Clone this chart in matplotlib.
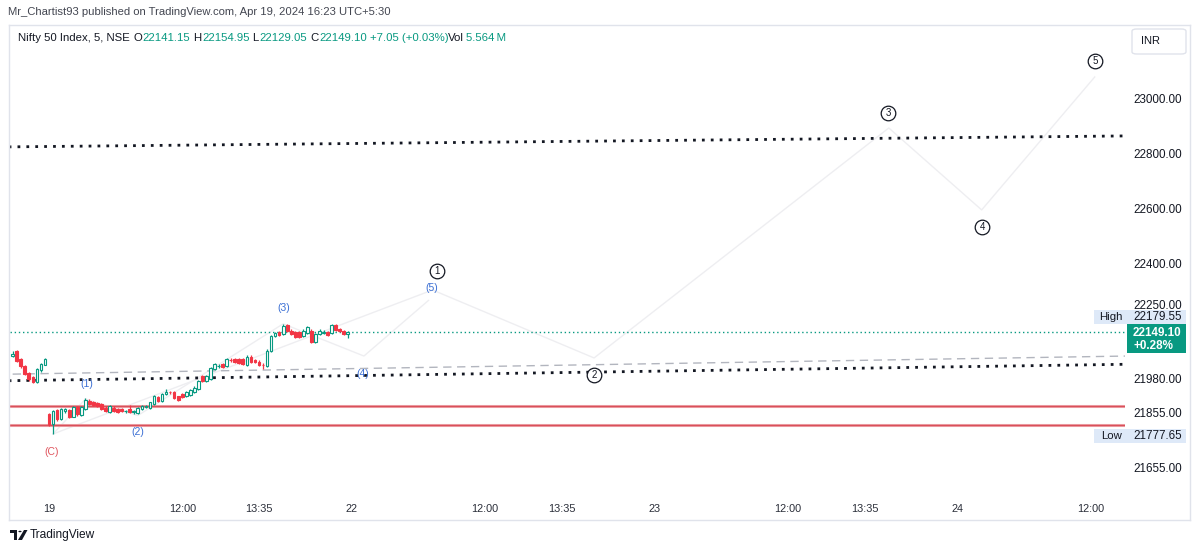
import matplotlib
matplotlib.use('Agg')
import matplotlib.pyplot as plt
from matplotlib.patches import Rectangle, FancyBboxPatch, Polygon, Circle
from matplotlib.lines import Line2D

plt.rcParams['font.family'] = ['Liberation Sans', 'DejaVu Sans']

# ---------------- data ----------------
bar_index = list(range(-9, 75))
opens = [22062, 22080, 22050, 22025, 22000, 21985, 21967, 22010, 22030,
         21850, 21813, 21864, 21831, 21860, 21866, 21841, 21875, 21846, 21868,
         21897, 21893, 21890, 21886, 21874, 21858, 21874, 21870, 21868, 21860,
         21870, 21858, 21855, 21868, 21876, 21874, 21886, 21912, 21898, 21924,
         21930, 21930, 21915, 21923, 21915, 21919, 21930, 21941, 21990, 21972,
         21978, 22014, 22025, 22032, 22027, 22048, 22051, 22050, 22051, 22028,
         22060, 22046, 22041, 22030, 22027, 22082, 22134, 22148, 22143, 22175,
         22155, 22150, 22148, 22136, 22146, 22155, 22113, 22143, 22146, 22150,
         22146, 22176, 22160, 22155, 22141.15]
highs = [22080, 22085, 22055, 22030, 22004, 21990, 22018, 22036, 22055,
         21855, 21866, 21870, 21874, 21873, 21870, 21880, 21880, 21880, 21908,
         21905, 21897, 21894, 21890, 21878, 21884, 21878, 21874, 21872, 21866,
         21882, 21864, 21876, 21884, 21884, 21896, 21920, 21916, 21926, 21940,
         21936, 21934, 21918, 21926, 21934, 21941, 21952, 21976, 21994, 21994,
         22022, 22037, 22033, 22036, 22055, 22054, 22055, 22054, 22056, 22064,
         22064, 22052, 22046, 22036, 22086, 22140, 22150, 22152, 22179.55, 22179,
         22160, 22154, 22152, 22159, 22170, 22160, 22147, 22160, 22156, 22155,
         22179, 22179, 22165, 22158, 22154.95]
lows = [22058, 22040, 22020, 21992, 21972, 21962, 21962, 22005, 22028,
        21805, 21777.65, 21826, 21828, 21855, 21835, 21838, 21845, 21842, 21864,
        21882, 21878, 21876, 21864, 21858, 21854, 21858, 21854, 21858, 21855,
        21854, 21852, 21850, 21864, 21872, 21870, 21882, 21894, 21895, 21921,
        21925, 21904, 21898, 21908, 21912, 21915, 21926, 21937, 21968, 21968,
        21974, 22010, 22020, 22018, 22023, 22042, 22035, 22033, 22029, 22024,
        22035, 22035, 22025, 22015, 22022, 22078, 22130, 22135, 22140, 22150,
        22138, 22127, 22126, 22132, 22142, 22108, 22108, 22139, 22142, 22135,
        22142, 22154, 22150, 22140, 22129.05]
closes = [22070, 22044, 22025, 21996, 21978, 21967, 22014, 22033, 22051,
          21813, 21860, 21831, 21868, 21868, 21839, 21876, 21850, 21875, 21902,
          21886, 21882, 21880, 21868, 21862, 21880, 21862, 21858, 21862, 21862,
          21858, 21860, 21873, 21880, 21878, 21893, 21915, 21898, 21923, 21932,
          21929, 21908, 21902, 21912, 21930, 21937, 21947, 21972, 21972, 21990,
          22017, 22033, 22027, 22021, 22051, 22046, 22039, 22037, 22033, 22057,
          22039, 22039, 22029, 22029, 22082, 22136, 22146, 22139, 22172, 22155,
          22143, 22131, 22131, 22155, 22167, 22113, 22143, 22155, 22150, 22139,
          22176, 22158, 22155, 22143, 22149.10]

x_ticks = [0, 33, 52, 75, 108, 127, 150, 183, 202, 225, 258]
x_labels = ['19', '12:00', '13:35', '22', '12:00', '13:35', '23', '12:00', '13:35', '24', '12:00']
y_ticks = [23000, 22800, 22600, 22400, 22250, 21980, 21855, 21655]
y_labels = ['23000.00', '22800.00', '22600.00', '22400.00', '22250.00', '21980.00', '21855.00', '21655.00']

last_price = 22149.10
day_high = 22179.55
day_low = 21777.65
change_pct = '+0.28%'

# horizontal / trend lines (endpoints)
top_dotted_x = [-10, 267]
top_dotted_y = [22825, 22865]
low_dotted_x = [-10, 267]
low_dotted_y = [21972, 22032]
dashed_x = [-9, 267]
dashed_y = [21996, 22062]
red_levels = [21880, 21810]

# Elliott sub-wave (C)->(5)
sub_x = [1, 9, 22, 58, 78, 94]
sub_y = [21777.65, 21905, 21845, 22179.55, 22062, 22265]
sub_text = ['(C)', '(1)', '(2)', '(3)', '(4)', '(5)']
sub_lx = [0.7, 9.4, 22, 58.2, 77.8, 94.9]
sub_ly = [21712, 21960, 21785, 22237, 21997, 22310]

# Elliott primary wave 1..5
prim_x = [1, 95, 135, 208, 231, 259]
prim_y = [21777.65, 22303, 22055, 22894, 22595, 23080]
prim_text = ['1', '2', '3', '4', '5']
prim_lx = [96.1, 135, 207.8, 231.1, 259.1]
prim_ly = [22372, 21993, 22949, 22533, 23138]

# ---------------- figure ----------------
W, H = 1200, 552
fig = plt.figure(figsize=(12, 5.52), dpi=100)
fig.patch.set_facecolor('white')

def fx(x):
    return x / W

def fy(y):
    return 1 - y / H

L, R, T, B = 10, 1125, 25, 490
ax = fig.add_axes([fx(L), fy(B), (R - L) / W, (B - T) / H])
ax.set_xlim(-9.66, 266.5)
ax.set_ylim(21573.3, 23269.6)
for s in ax.spines.values():
    s.set_visible(False)
ax.set_facecolor('white')

GREEN = '#089981'
RED = '#f23645'
TXT = '#131722'

# lines
ax.plot(top_dotted_x, top_dotted_y, color=TXT, lw=2.0, ls=(0, (1, 2.2)), zorder=2)
ax.plot(low_dotted_x, low_dotted_y, color=TXT, lw=2.0, ls=(0, (1, 2.2)), zorder=2)
ax.plot(dashed_x, dashed_y, color='#b2b5be', lw=1.0, ls=(0, (6, 4)), zorder=2)
for lv in red_levels:
    ax.axhline(lv, color='#ec9ca1', lw=2.2, zorder=2)
    ax.axhline(lv, color='#d9505a', lw=0.8, zorder=2)
ax.axhline(last_price, color=GREEN, lw=1.0, ls=(0, (1, 2)), zorder=2)

# wave lines (very faint)
ax.plot(prim_x, prim_y, color='#eeeef1', lw=1.0, zorder=1)
ax.plot(sub_x, sub_y, color='#eeeef1', lw=1.0, zorder=1)

# candles
for i, o, h, l, c in zip(bar_index, opens, highs, lows, closes):
    col = GREEN if c >= o else RED
    ax.vlines(i, l, h, color=col, lw=0.9, zorder=3)
    bot = min(o, c)
    hgt = max(abs(c - o), 2.0)
    if c >= o:
        ax.add_patch(Rectangle((i - 0.33, bot), 0.66, hgt, facecolor='white',
                               edgecolor=col, lw=0.8, zorder=4))
    else:
        ax.add_patch(Rectangle((i - 0.33, bot), 0.66, hgt, facecolor=col,
                               edgecolor=col, lw=0.8, zorder=4))

# wave labels
for t, lx, ly in zip(sub_text, sub_lx, sub_ly):
    col = '#e0555e' if t == '(C)' else '#3b6fd4'
    ax.text(lx, ly, t, color=col, fontsize=7.5, ha='center', va='center', zorder=6)
for t, lx, ly in zip(prim_text, prim_lx, prim_ly):
    ax.plot(lx, ly, marker='o', ms=10.5, mfc='white', mec=TXT, mew=0.9, zorder=6)
    ax.text(lx, ly, t, color=TXT, fontsize=7, ha='center', va='center', zorder=7)

# axes ticks
ax.set_xticks(x_ticks)
ax.set_xticklabels(x_labels)
ax.tick_params(axis='x', length=0, pad=10, labelsize=7.8, labelcolor='#2a2e39')
ax.yaxis.tick_right()
ax.set_yticks(y_ticks)
ax.set_yticklabels(y_labels)
ax.tick_params(axis='y', length=0, pad=6, labelsize=8.4, labelcolor=TXT)

# price axis badges (in figure pixel space)
def ypx(p):
    y0, y1 = ax.get_ylim()
    return T + (y1 - p) / (y1 - y0) * (B - T)

def box(x0, y0, x1, y1, fc, ec='none', lw=0):
    fig.patches.append(Rectangle((fx(x0), fy(y1)), (x1 - x0) / W, (y1 - y0) / H,
                                 transform=fig.transFigure, facecolor=fc,
                                 edgecolor=ec, lw=lw, zorder=5))

yp = ypx(last_price)
yh = min(ypx(day_high), yp - 15)
box(1094, yh - 7, 1186, yh + 7, '#dee9f8')
fig.text(fx(1099), fy(yh), 'High', fontsize=8.2, color=TXT, va='center', ha='left', zorder=6)
fig.text(fx(1133), fy(yh), f'{day_high:.2f}', fontsize=8.4, color=TXT, va='center', ha='left', zorder=6)

yl = ypx(day_low) + 2
box(1094, yl - 7, 1186, yl + 7, '#dee9f8')
fig.text(fx(1101), fy(yl), 'Low', fontsize=8.2, color=TXT, va='center', ha='left', zorder=6)
fig.text(fx(1133), fy(yl), f'{day_low:.2f}', fontsize=8.4, color=TXT, va='center', ha='left', zorder=6)

box(1127, yp - 8, 1186, yp + 21, GREEN)
fig.text(fx(1133), fy(yp + 0.5), f'{last_price:.2f}', fontsize=8.4, color='white',
         va='center', ha='left', zorder=6, fontweight='bold')
fig.text(fx(1133), fy(yp + 13.5), change_pct, fontsize=8.4, color='white',
         va='center', ha='left', zorder=6, fontweight='bold')

# INR box
fig.patches.append(FancyBboxPatch((fx(1132), fy(54)), 54 / W, 25 / H,
                                  boxstyle='round,pad=0,rounding_size=0.004',
                                  transform=fig.transFigure, facecolor='white',
                                  edgecolor='#e0e3eb', lw=1.0, zorder=5))
fig.text(fx(1141), fy(41.5), 'INR', fontsize=8, color=TXT, va='center', ha='left', zorder=6)

# panel frame
fc = '#e0e3eb'
for (x0, y0, x1, y1) in [(9, 25, 1190, 25), (9, 25, 9, 520), (1190, 25, 1190, 520), (9, 520, 1190, 520)]:
    fig.add_artist(Line2D([fx(x0), fx(x1)], [fy(y0), fy(y1)], color=fc, lw=1.0,
                          transform=fig.transFigure))

# header texts
fig.text(fx(8), fy(12), 'Mr_Chartist93 published on TradingView.com, Apr 19, 2024 16:23 UTC+5:30',
         fontsize=8.1, color='#434651', va='center', ha='left')

hdr = [(18, 'Nifty 50 Index, 5, NSE', TXT),
       (133, 'O', TXT), (142, '22141.15', GREEN),
       (193, 'H', TXT), (202, '22154.95', GREEN),
       (252, 'L', TXT), (259, '22129.05', GREEN),
       (310, 'C', TXT), (319, '22149.10', GREEN),
       (370, '+7.05 (+0.03%)', GREEN),
       (448, 'Vol', TXT), (466, '5.564\u2009M', GREEN)]
for x, t, c in hdr:
    fig.text(fx(x), fy(38), t, fontsize=8.2, color=c, va='center', ha='left',
             family=['Liberation Sans', 'DejaVu Sans'])

# TradingView logo + text
fig.patches.append(Rectangle((fx(10), fy(533)), 7 / W, 3 / H, transform=fig.transFigure,
                             facecolor=TXT, edgecolor='none'))
fig.patches.append(Rectangle((fx(14), fy(540)), 3 / W, 9 / H, transform=fig.transFigure,
                             facecolor=TXT, edgecolor='none'))
fig.patches.append(Circle((fx(20), fy(531.5)), 1.6 / W, transform=fig.transFigure,
                          facecolor=TXT, edgecolor='none'))
fig.patches.append(Polygon([(fx(18), fy(540)), (fx(22), fy(540)), (fx(27.5), fy(530)),
                            (fx(24), fy(530))], closed=True, transform=fig.transFigure,
                           facecolor=TXT, edgecolor='none'))
fig.text(fx(30), fy(535), 'TradingView', fontsize=8.6, color=TXT, va='center', ha='left')

fig.savefig('out.png', dpi=100, facecolor='white')
